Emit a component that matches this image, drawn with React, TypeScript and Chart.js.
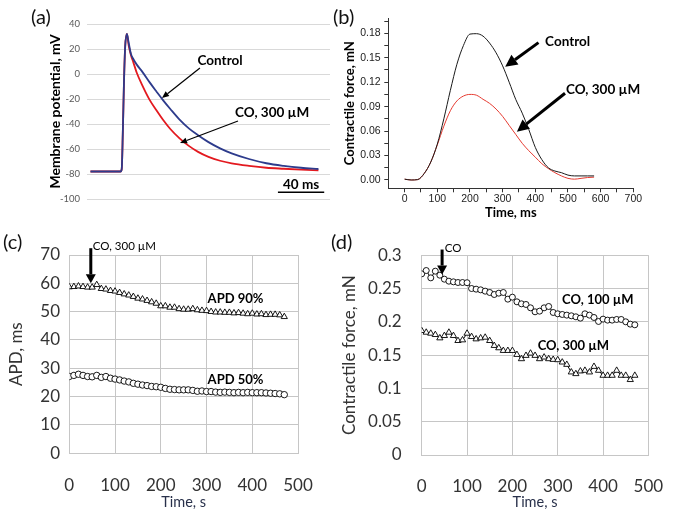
import React, { useEffect, useRef } from 'react';
import { Chart, registerables } from 'chart.js';

Chart.register(...registerables);

const FONT = 'Lato, "Open Sans", sans-serif';
const ARIAL = '"Liberation Sans", Arial, sans-serif';

// ---------- Panel (a): action potentials ----------
const apTime = [3, 29, 30, 31, 32, 33, 34.5, 36, 38, 40, 43, 48, 54, 60, 66, 72, 80, 88, 96, 105, 115, 125, 140, 155, 170, 185, 200];
const apControl = [-78, -78, -76, -45, -5, 22, 32, 25, 16, 12, 7.5, 1.5, -6.5, -14, -21.3, -28, -36.5, -43.5, -49, -54.5, -59.5, -63.5, -68, -71.4, -73.5, -75, -76];
const apCO = [-78, -78, -76, -45, -5, 22, 32, 23, 15, 9.5, 1, -9.5, -20.5, -29, -37, -44, -51.5, -57.5, -62.3, -66.3, -69.4, -71.5, -73.5, -75, -75.8, -76.5, -77];

// ---------- Panel (b): contractile force transients ----------
const bTime = [0, 20, 40, 60, 80, 100, 120, 140, 160, 180, 200, 220, 240, 260, 280, 300, 320, 340, 360, 380, 400, 420, 440, 460, 480, 500, 520, 540, 560, 580];
const bControl = [0.001, 0, 0.0005, 0.008, 0.022, 0.044, 0.075, 0.11, 0.142, 0.165, 0.179, 0.1795, 0.1765, 0.168, 0.156, 0.14, 0.12, 0.099, 0.082, 0.062, 0.04, 0.025, 0.015, 0.011, 0.009, 0.006, 0.005, 0.005, 0.005, 0.005];
const bCO = [0.001, 0, 0.0005, 0.008, 0.022, 0.043, 0.066, 0.085, 0.097, 0.103, 0.105, 0.104, 0.099, 0.094, 0.087, 0.078, 0.067, 0.056, 0.045, 0.036, 0.028, 0.02, 0.014, 0.009, 0.005, 0.002, 0.001, 0.002, 0.003, 0.0035];

// ---------- Panels (c), (d): time courses ----------
const cdTime = [0, 10, 20, 30, 40, 50, 60, 70, 80, 90, 100, 110, 120, 130, 140, 150, 160, 170, 180, 190, 200, 210, 220, 230, 240, 250, 260, 270, 280, 290, 300, 310, 320, 330, 340, 350, 360, 370, 380, 390, 400, 410, 420, 430, 440, 450, 460, 470];
const apd90 = [58.7, 58.8, 59, 58.8, 58.6, 58.6, 59.5, 58.1, 57.9, 57.4, 57.2, 56.7, 56.2, 55.8, 55.3, 54.7, 54.4, 53.9, 53.4, 52.9, 52, 52, 51.5, 51.5, 51, 50.8, 50.8, 51, 50.6, 50.4, 50.3, 50, 49.8, 49.8, 49.7, 49.7, 49.5, 49.6, 49.4, 49.2, 49.4, 49.1, 49.2, 48.9, 49, 49, 48.8, 48.2];
const apd50 = [27.1, 27.5, 27.9, 27.5, 27.1, 27, 27.5, 26.8, 27.1, 26.5, 26.2, 25.9, 25.5, 25.2, 24.7, 24.4, 24.1, 23.9, 23.6, 23.5, 23.3, 22.9, 22.6, 22.5, 22.4, 22.4, 22.4, 22.2, 21.9, 22, 21.8, 21.8, 21.6, 21.5, 21.6, 21.5, 21.4, 21.5, 21.4, 21.5, 21.4, 21.4, 21.4, 21.3, 21.2, 21.1, 21, 20.7];
const co100 = [0.272, 0.277, 0.266, 0.276, 0.27, 0.264, 0.261, 0.26, 0.259, 0.259, 0.2587, 0.25, 0.249, 0.248, 0.246, 0.244, 0.241, 0.243, 0.244, 0.234, 0.237, 0.23, 0.227, 0.226, 0.221, 0.215, 0.216, 0.221, 0.223, 0.214, 0.212, 0.211, 0.21, 0.209, 0.2075, 0.2055, 0.212, 0.21, 0.2065, 0.2005, 0.204, 0.2025, 0.2025, 0.2035, 0.2035, 0.2, 0.1965, 0.1955];
const co300 = [0.1866, 0.1841, 0.1826, 0.1806, 0.1756, 0.1791, 0.1841, 0.1791, 0.1716, 0.1726, 0.1826, 0.1776, 0.1741, 0.1756, 0.1766, 0.1716, 0.1642, 0.1607, 0.1567, 0.1567, 0.1567, 0.1507, 0.1443, 0.1493, 0.1527, 0.1493, 0.1443, 0.1468, 0.1443, 0.1433, 0.1428, 0.1393, 0.1358, 0.1244, 0.1219, 0.1259, 0.1269, 0.1244, 0.1328, 0.1269, 0.1194, 0.1194, 0.1194, 0.1269, 0.1194, 0.1194, 0.113, 0.1194];

type Arrow = { x1: number; y1: number; x2: number; y2: number; width: number; head: number; headW: number };
type Label = { text: string; x: number; y: number; font: string; align?: CanvasTextAlign };
type Seg = { x1: number; y1: number; x2: number; y2: number; width: number };

function annot(id: string, arrows: Arrow[], labels: Label[], segs: Seg[] = []) {
  return {
    id,
    afterDatasetsDraw(chart: any) {
      const xs = chart.scales.x;
      const ys = chart.scales.y;
      const ctx = chart.ctx as CanvasRenderingContext2D;
      ctx.save();
      ctx.strokeStyle = '#000';
      ctx.fillStyle = '#000';
      for (const s of segs) {
        ctx.lineWidth = s.width;
        ctx.beginPath();
        ctx.moveTo(xs.getPixelForValue(s.x1), ys.getPixelForValue(s.y1));
        ctx.lineTo(xs.getPixelForValue(s.x2), ys.getPixelForValue(s.y2));
        ctx.stroke();
      }
      for (const a of arrows) {
        const x1 = xs.getPixelForValue(a.x1);
        const y1 = ys.getPixelForValue(a.y1);
        const x2 = xs.getPixelForValue(a.x2);
        const y2 = ys.getPixelForValue(a.y2);
        const ang = Math.atan2(y2 - y1, x2 - x1);
        const bx = x2 - a.head * Math.cos(ang);
        const by = y2 - a.head * Math.sin(ang);
        ctx.lineWidth = a.width;
        ctx.beginPath();
        ctx.moveTo(x1, y1);
        ctx.lineTo(bx, by);
        ctx.stroke();
        ctx.beginPath();
        ctx.moveTo(x2, y2);
        ctx.lineTo(bx + a.headW * Math.sin(ang), by - a.headW * Math.cos(ang));
        ctx.lineTo(bx - a.headW * Math.sin(ang), by + a.headW * Math.cos(ang));
        ctx.closePath();
        ctx.fill();
      }
      ctx.textBaseline = 'middle';
      for (const l of labels) {
        ctx.font = l.font;
        ctx.textAlign = l.align ?? 'center';
        ctx.fillText(l.text, xs.getPixelForValue(l.x), ys.getPixelForValue(l.y));
      }
      ctx.restore();
    },
  };
}

const pts = (xs: number[], ys: number[]) => xs.map((x, i) => ({ x, y: ys[i] }));

function configA(): any {
  return {
    type: 'line',
    data: {
      datasets: [
        { data: pts(apTime, apControl), borderColor: '#2d3b8c', borderWidth: 1.8, pointRadius: 0, cubicInterpolationMode: 'monotone', order: 0 },
        { data: pts(apTime, apCO), borderColor: '#e3191f', borderWidth: 1.8, pointRadius: 0, cubicInterpolationMode: 'monotone', order: 1 },
      ],
    },
    options: {
      animation: false,
      responsive: false,
      layout: { padding: { left: 47, top: 24, right: 5, bottom: 16 } },
      plugins: { legend: { display: false }, tooltip: { enabled: false } },
      scales: {
        x: { type: 'linear', min: 0, max: 210, display: false },
        y: {
          min: -100, max: 40,
          ticks: { stepSize: 20, padding: 7, color: '#595959', font: { family: FONT, size: 9.5 } },
          grid: { color: '#d9d9d9', drawTicks: false },
          border: { display: false },
          title: { display: true, text: 'Membrane potential, mV', color: '#000', font: { family: FONT, size: 14, weight: 'bold' }, padding: 0 },
          afterFit: (s: any) => { s.width = 40; },
        },
      },
    },
    plugins: [
      annot('annA',
        [
          { x1: 97.6, y1: 4.8, x2: 64.8, y2: -19.2, width: 1.2, head: 7, headW: 3 },
          { x1: 130.5, y1: -37.6, x2: 80.4, y2: -55.2, width: 1.2, head: 7, headW: 3 },
        ],
        [
          { text: 'Control', x: 115, y: 10.4, font: `bold 13.5px ${FONT}` },
          { text: 'CO, 300 µM', x: 160, y: -31.2, font: `bold 13.5px ${FONT}` },
          { text: '40 ms', x: 185, y: -88.8, font: `bold 13.5px ${FONT}` },
        ],
        [{ x1: 165, y1: -94.6, x2: 205, y2: -94.6, width: 1.5 }]),
    ],
  };
}

function configB(): any {
  const hideBoundX = (c: any) => (c.tick && c.tick.value < 0 ? 'rgba(0,0,0,0)' : '#333');
  return {
    type: 'line',
    data: {
      datasets: [
        { data: pts(bTime, bControl), borderColor: '#1a1a1a', borderWidth: 1, pointRadius: 0, cubicInterpolationMode: 'monotone' },
        { data: pts(bTime, bCO), borderColor: '#e53a30', borderWidth: 1, pointRadius: 0, cubicInterpolationMode: 'monotone' },
      ],
    },
    options: {
      animation: false,
      responsive: false,
      layout: { padding: { left: 7.2, top: 18.2, right: 51.7, bottom: 0 } },
      plugins: { legend: { display: false }, tooltip: { enabled: false } },
      scales: {
        x: {
          type: 'linear', min: -50, max: 700,
          ticks: {
            stepSize: 50, autoSkip: false, maxRotation: 0, padding: 0.4, color: '#222',
            font: { family: ARIAL, size: 10.5 },
            callback: (v: any) => (Math.round(v) % 100 === 0 && v >= 0 ? String(Math.round(v)) : ''),
          },
          grid: { drawOnChartArea: false, drawTicks: true, tickLength: 4, color: hideBoundX },
          border: { display: true, color: '#333', width: 1 },
          title: { display: true, text: 'Time, ms', color: '#000', font: { family: FONT, size: 13, weight: 'bold' }, padding: { top: 0, bottom: 4.2 } },
          afterFit: (s: any) => { s.height = 36.7; },
        },
        y: {
          min: -0.0102, max: 0.1985,
          ticks: {
            stepSize: 0.015, autoSkip: false, includeBounds: false, padding: 3.6, color: '#222',
            font: { family: ARIAL, size: 10.5 },
            callback: (v: any) => {
              const r = v / 0.03;
              return v > -0.0001 && v < 0.19 && Math.abs(r - Math.round(r)) < 1e-6 ? Number(v).toFixed(2) : '';
            },
          },
          grid: { drawOnChartArea: false, drawTicks: true, tickLength: 4, color: '#333' },
          border: { display: true, color: '#333', width: 1 },
          title: { display: true, text: 'Contractile force, mN', color: '#000', font: { family: FONT, size: 13, weight: 'bold' }, padding: 0 },
          afterFit: (s: any) => { s.width = 46.1; },
        },
      },
    },
    plugins: [
      annot('annB',
        [
          { x1: 409.7, y1: 0.1685, x2: 307.9, y2: 0.139, width: 3, head: 12, headW: 6 },
          { x1: 491, y1: 0.1064, x2: 343.6, y2: 0.0593, width: 3, head: 12, headW: 6 },
        ],
        [
          { text: 'Control', x: 499, y: 0.1693, font: `bold 13.5px ${FONT}` },
          { text: 'CO, 300 µM', x: 607.5, y: 0.1104, font: `bold 13.5px ${FONT}` },
        ]),
    ],
  };
}

function gridScales(opts: {
  yMax: number; yStep: number; yTitle: string; yPad: number; yWidth: number; xPad: number; xHeight: number;
}): any {
  return {
    x: {
      type: 'linear', min: 0, max: 500,
      ticks: { stepSize: 100, maxRotation: 0, padding: opts.xPad, color: '#333', font: { family: FONT, size: 17 } },
      grid: { color: '#c6c6c6', drawTicks: false },
      border: { color: '#c6c6c6' },
      title: { display: true, text: 'Time, s', color: '#28304a', font: { family: FONT, size: 14.5 }, padding: { top: 0, bottom: 3.2 } },
      afterFit: (s: any) => { s.height = opts.xHeight; },
    },
    y: {
      min: 0, max: opts.yMax,
      ticks: {
        stepSize: opts.yStep, padding: opts.yPad, color: '#333', font: { family: FONT, size: 17 },
        callback: (v: any) => String(Math.round(v * 1000) / 1000),
      },
      grid: { color: '#c6c6c6', drawTicks: false },
      border: { color: '#c6c6c6' },
      title: { display: true, text: opts.yTitle, color: '#333', font: { family: FONT, size: 17 }, padding: 0 },
      afterFit: (s: any) => { s.width = opts.yWidth; },
    },
  };
}

function configC(): any {
  return {
    type: 'line',
    data: {
      datasets: [
        {
          data: pts(cdTime, apd90), borderColor: '#000', borderWidth: 1, pointStyle: 'triangle', pointRadius: 3.6,
          pointBackgroundColor: '#fff', pointBorderColor: '#000', pointBorderWidth: 0.9,
        },
        {
          data: pts(cdTime, apd50), showLine: false, pointStyle: 'circle', pointRadius: 3.2,
          pointBackgroundColor: '#fff', pointBorderColor: '#000', pointBorderWidth: 0.9,
        },
      ],
    },
    options: {
      animation: false,
      responsive: false,
      layout: { padding: { left: 6.5, top: 30, right: 15.7, bottom: 0 } },
      plugins: { legend: { display: false }, tooltip: { enabled: false } },
      scales: gridScales({ yMax: 70, yStep: 10, yTitle: 'APD, ms', yPad: 9.3, yWidth: 62.8, xPad: 22.2, xHeight: 60.7 }),
    },
    plugins: [
      annot('annC',
        [{ x1: 47, y1: 72.4, x2: 47, y2: 60, width: 3, head: 9, headW: 5 }],
        [
          { text: 'CO, 300 µM', x: 51.4, y: 73.2, font: `11.5px ${FONT}`, align: 'left' },
          { text: 'APD 90%', x: 363.4, y: 54.4, font: `bold 13px ${FONT}` },
          { text: 'APD 50%', x: 363.4, y: 25.9, font: `bold 13px ${FONT}` },
        ]),
    ],
  };
}

function configD(): any {
  return {
    type: 'line',
    data: {
      datasets: [
        {
          data: pts(cdTime, co100), borderColor: '#000', borderWidth: 1, pointStyle: 'circle', pointRadius: 3,
          pointBackgroundColor: '#fff', pointBorderColor: '#000', pointBorderWidth: 0.9,
        },
        {
          data: pts(cdTime, co300), borderColor: '#000', borderWidth: 1, pointStyle: 'triangle', pointRadius: 3.6,
          pointBackgroundColor: '#fff', pointBorderColor: '#000', pointBorderWidth: 0.9,
        },
      ],
    },
    options: {
      animation: false,
      responsive: false,
      layout: { padding: { left: 4.1, top: 29, right: 17.7, bottom: 0 } },
      plugins: { legend: { display: false }, tooltip: { enabled: false } },
      scales: gridScales({ yMax: 0.3, yStep: 0.05, yTitle: 'Contractile force, mN', yPad: 20, yWidth: 82.6, xPad: 21.8, xHeight: 59 }),
    },
    plugins: [
      annot('annD',
        [{ x1: 45, y1: 0.3085, x2: 45, y2: 0.271, width: 3, head: 9, headW: 5 }],
        [
          { text: 'CO', x: 51, y: 0.311, font: `11.5px ${FONT}`, align: 'left' },
          { text: 'CO, 100 µM', x: 388.4, y: 0.2324, font: `bold 13px ${FONT}` },
          { text: 'CO, 300 µM', x: 334.5, y: 0.164, font: `bold 13px ${FONT}` },
        ]),
    ],
  };
}

const panelLabel = (text: string, left: number, centerY: number) => (
  <div
    style={{
      position: 'absolute', left, top: centerY - 11, height: 22, lineHeight: '22px',
      fontFamily: FONT, fontSize: 20, color: '#111', whiteSpace: 'nowrap',
    }}
  >
    {text}
  </div>
);

export default function App() {
  const refA = useRef<HTMLCanvasElement>(null);
  const refB = useRef<HTMLCanvasElement>(null);
  const refC = useRef<HTMLCanvasElement>(null);
  const refD = useRef<HTMLCanvasElement>(null);

  useEffect(() => {
    const charts: Chart[] = [];
    if (refA.current) charts.push(new Chart(refA.current, configA()));
    if (refB.current) charts.push(new Chart(refB.current, configB()));
    if (refC.current) charts.push(new Chart(refC.current, configC()));
    if (refD.current) charts.push(new Chart(refD.current, configD()));
    return () => charts.forEach((c) => c.destroy());
  }, []);

  const cv = (left: number, top: number, w: number, h: number): React.CSSProperties => ({
    position: 'absolute', left, top, width: w, height: h,
  });

  return (
    <div style={{ position: 'absolute', left: 0, top: 0, width: 685, height: 514, background: '#fff', overflow: 'hidden' }}>
      <canvas ref={refA} width={335} height={215} style={cv(0, 0, 335, 215)} />
      <canvas ref={refB} width={350} height={225} style={cv(335, 0, 350, 225)} />
      <canvas ref={refC} width={335} height={289} style={cv(0, 225, 335, 289)} />
      <canvas ref={refD} width={350} height={289} style={cv(335, 225, 350, 289)} />
      {panelLabel('(a)', 31, 16)}
      {panelLabel('(b)', 333, 16)}
      {panelLabel('(c)', 3, 241)}
      {panelLabel('(d)', 331, 241)}
    </div>
  );
}
